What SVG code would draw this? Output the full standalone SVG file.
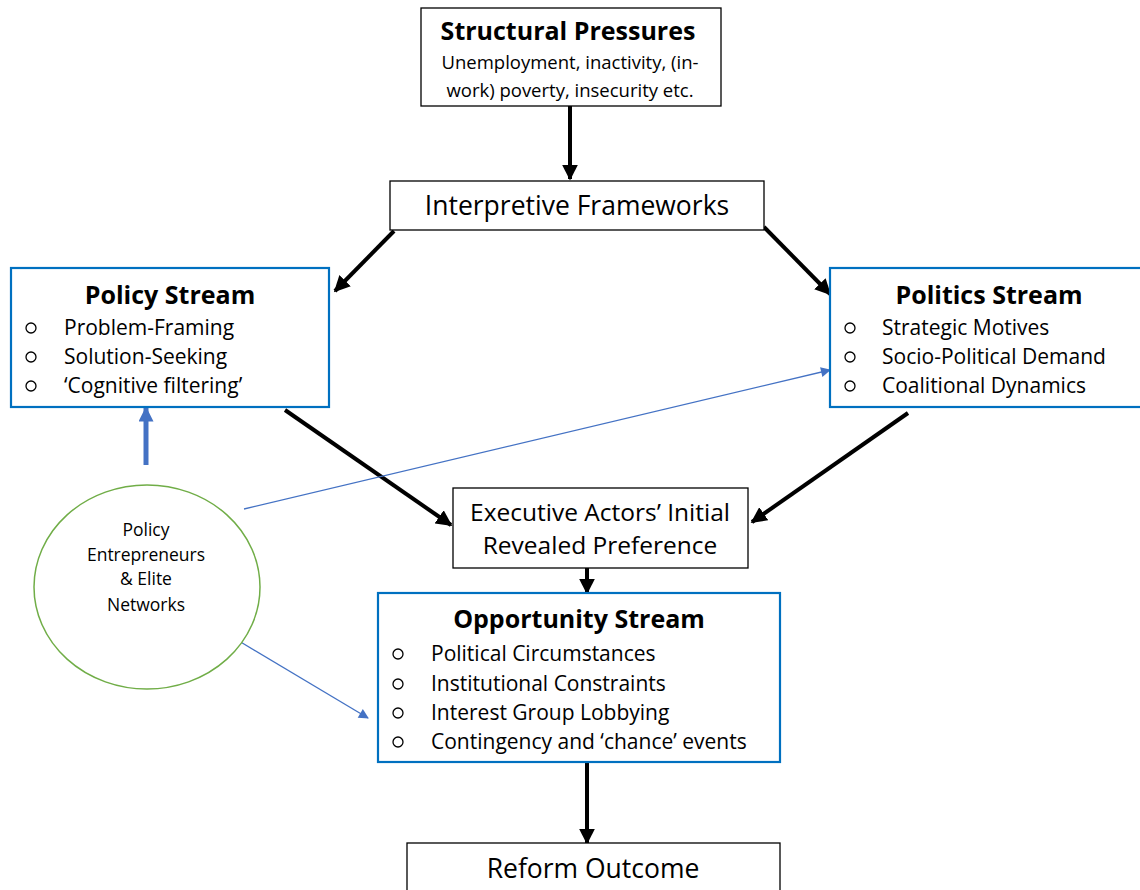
<svg xmlns="http://www.w3.org/2000/svg" width="1140" height="890" viewBox="0 0 1140 890">
<defs>
<style>
.box{fill:#fff;stroke:#000;stroke-width:1.3}
.bbox{fill:#fff;stroke:#0070C0;stroke-width:2.2}
text{font-family:"Open Sans","Liberation Sans",sans-serif;fill:#000}
.t{font-weight:bold;font-size:25px;text-anchor:middle}
.s{font-size:18.5px;text-anchor:middle}
.c{font-size:17.5px;text-anchor:middle}
.m{font-size:26.5px;text-anchor:middle}
.e{font-size:24.5px;text-anchor:middle}
.li{font-size:21px}
.bl{fill:none;stroke:#000;stroke-width:1.3}
.k{stroke:#000;stroke-width:4;fill:none}
.b{stroke:#4472C4;fill:none}
</style>
<marker id="ak" viewBox="0 0 10 10" refX="9" refY="5" markerWidth="4" markerHeight="4" orient="auto" markerUnits="strokeWidth"><path d="M0,0L10,5L0,10z" fill="#000"/></marker>
<marker id="ab" viewBox="0 0 10 10" refX="9" refY="5" markerWidth="11" markerHeight="10" orient="auto" markerUnits="userSpaceOnUse"><path d="M0,0L10,5L0,10z" fill="#4472C4"/></marker>
<marker id="ab2" viewBox="0 0 10 10" refX="9" refY="5" markerWidth="3" markerHeight="3" orient="auto" markerUnits="strokeWidth"><path d="M0,0L10,5L0,10z" fill="#4472C4"/></marker>
</defs>
<g id="connectors">
<line class="k" x1="570" y1="106" x2="570" y2="179" marker-end="url(#ak)"/>
<line class="k" x1="394" y1="231" x2="335" y2="291" marker-end="url(#ak)"/>
<line class="k" x1="764" y1="227" x2="830" y2="294" marker-end="url(#ak)"/>
<line class="k" x1="285" y1="410" x2="451" y2="525" marker-end="url(#ak)"/>
<line class="k" x1="908" y1="413" x2="752" y2="522" marker-end="url(#ak)"/>
<line class="k" x1="587" y1="568" x2="587" y2="593" marker-end="url(#ak)"/>
<line class="k" x1="587" y1="762" x2="587" y2="843" marker-end="url(#ak)"/>
<line class="b" stroke-width="5" x1="146" y1="465" x2="146" y2="408" marker-end="url(#ab2)"/>
<line class="b" stroke-width="1.3" x1="244" y1="509" x2="830" y2="370" marker-end="url(#ab)"/>
<line class="b" stroke-width="1.3" x1="234" y1="638" x2="368" y2="718" marker-end="url(#ab)"/>
</g>
<g id="structural">
<rect class="box" x="421" y="8" width="300" height="98"/>
<text class="t" x="568" y="40">Structural Pressures</text>
<text class="s" x="570" y="69">Unemployment, inactivity, (in-</text>
<text class="s" x="570" y="97">work) poverty, insecurity etc.</text>
</g>
<g id="interpretive">
<rect class="box" x="390" y="181" width="374" height="49"/>
<text class="m" x="577" y="215">Interpretive Frameworks</text>
</g>
<g id="policy">
<rect class="bbox" x="11" y="268" width="318" height="139"/>
<text class="t" x="170" y="304">Policy Stream</text>
<g class="li">
<circle class="bl" cx="31" cy="328" r="5"/><text x="64" y="335">Problem-Framing</text>
<circle class="bl" cx="31" cy="357" r="5"/><text x="64" y="364">Solution-Seeking</text>
<circle class="bl" cx="31" cy="386" r="5"/><text x="64" y="393">‘Cognitive filtering’</text>
</g>
</g>
<g id="politics">
<rect class="bbox" x="830" y="268" width="318" height="139"/>
<text class="t" x="989" y="304">Politics Stream</text>
<g class="li">
<circle class="bl" cx="850" cy="328" r="5"/><text x="882" y="335">Strategic Motives</text>
<circle class="bl" cx="850" cy="357" r="5"/><text x="882" y="364">Socio-Political Demand</text>
<circle class="bl" cx="850" cy="386" r="5"/><text x="882" y="393">Coalitional Dynamics</text>
</g>
</g>
<g id="executive">
<rect class="box" x="453" y="488" width="295" height="80"/>
<text class="e" x="600" y="521">Executive Actors’ Initial</text>
<text class="e" x="600" y="554">Revealed Preference</text>
</g>
<g id="opportunity">
<rect class="bbox" x="378" y="593" width="402" height="169"/>
<text class="t" x="579" y="628">Opportunity Stream</text>
<g class="li">
<circle class="bl" cx="398" cy="654" r="5"/><text x="431" y="661">Political Circumstances</text>
<circle class="bl" cx="398" cy="684" r="5"/><text x="431" y="691">Institutional Constraints</text>
<circle class="bl" cx="398" cy="713" r="5"/><text x="431" y="720">Interest Group Lobbying</text>
<circle class="bl" cx="398" cy="742" r="5"/><text x="431" y="749">Contingency and ‘chance’ events</text>
</g>
</g>
<g id="reform">
<rect class="box" x="407" y="843" width="373" height="60"/>
<text class="m" x="593" y="878">Reform Outcome</text>
</g>
<g id="entrepreneurs">
<ellipse cx="147" cy="587" rx="113" ry="102" fill="#fff" stroke="#70AD47" stroke-width="1.5"/>
<text class="c" x="146" y="536">Policy</text>
<text class="c" x="146" y="561">Entrepreneurs</text>
<text class="c" x="146" y="585">&amp; Elite</text>
<text class="c" x="146" y="611">Networks</text>
</g>
</svg>
